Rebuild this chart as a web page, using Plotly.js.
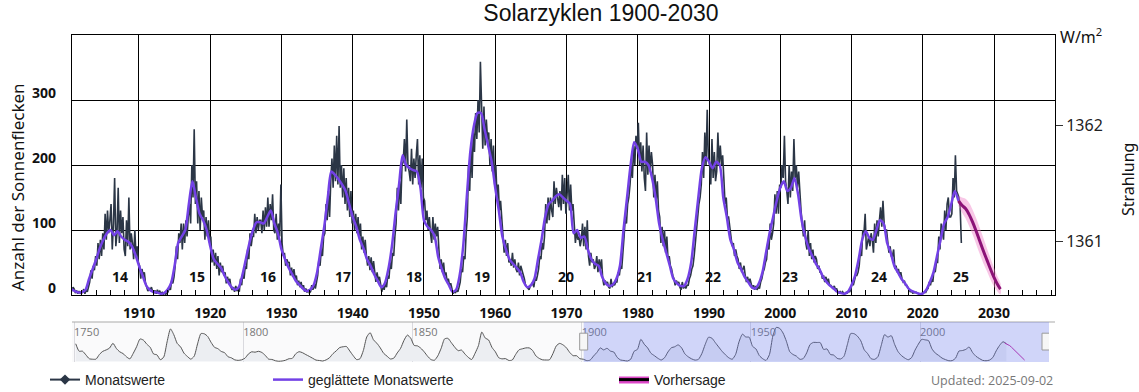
<!DOCTYPE html>
<html>
<head>
<meta charset="utf-8">
<script src="https://cdn.plot.ly/plotly-3.0.1.min.js"></script>
<style>
html,body{margin:0;padding:0;background:#fff;}
#chart{width:1139px;height:392px;}
</style>
</head>
<body>
<div id="chart"></div>
<script>
// ---------------- DATA ----------------
// Monthly sunspot values, sampled six times per year (1900 .. mid 2025)
const monthlyStart = 1900;
const monthlyPerYear = 6;
const monthlyValues = [
18,8,15,6,12,9, 3,7,2,6,3,5, 4,9,2,8,5,14, 20,38,25,45,38,60, 45,80,55,85,60,95,
70,125,85,130,95,115, 140,70,110,180,75,95, 165,80,130,95,120,70, 60,115,75,150,70,95, 80,55,100,60,75,50,
45,25,40,30,35,18, 12,6,10,8,12,5, 3,7,2,8,4,6, 2,4,1,3,1,3, 5,12,8,22,18,28,
45,75,55,95,80,110, 70,110,80,115,90,120, 140,110,200,150,255,140, 175,110,160,100,150,120, 130,85,120,90,115,80,
90,50,70,45,65,40, 60,30,50,35,45,30, 35,18,28,20,25,12, 8,12,5,14,6,10, 5,25,15,35,25,45,
40,70,55,95,75,90, 90,125,95,120,100,115, 115,95,130,100,135,105, 150,105,140,115,155,100, 95,125,85,110,90,170,
80,60,65,45,55,50, 50,30,42,28,40,25, 30,15,22,12,20,10, 15,5,10,4,8,3, 5,15,8,18,10,20,
30,55,45,70,60,90, 95,140,115,160,120,175, 210,165,230,175,245,170, 260,165,200,150,195,140, 180,130,165,120,160,110,
130,100,125,95,120,90, 110,70,90,65,85,60, 45,60,38,58,35,52, 30,20,35,22,28,15, 5,15,8,20,12,30,
25,50,40,65,60,90, 110,165,130,175,140,200, 205,240,190,270,200,190, 175,225,170,210,180,215, 240,170,215,165,210,150,
145,115,130,100,120,95, 80,120,85,110,90,105, 60,40,55,35,50,30, 35,20,25,15,18,10, 2,6,3,8,5,12,
20,40,35,60,55,95, 120,200,160,230,180,250, 220,280,240,300,250,359, 270,225,290,230,270,240, 250,200,240,190,230,170,
200,150,170,130,145,120, 90,65,85,60,80,50, 55,45,65,42,55,40, 35,50,30,45,38,32, 25,15,12,10,8,14,
15,20,12,25,22,30, 40,60,55,80,70,90, 140,110,150,115,150,130, 120,175,140,165,150,135, 160,130,185,140,180,125,
155,185,130,170,130,140, 110,80,100,85,90,75, 85,110,75,105,70,115, 60,45,65,50,55,40, 45,60,35,55,40,55,
25,15,22,18,20,12, 10,25,12,18,15,20, 20,35,30,45,40,60, 90,120,110,140,150,170, 200,180,230,200,245,225,
265,200,235,190,230,180, 160,250,185,230,190,220, 200,150,185,145,175,130, 120,80,105,75,100,65, 90,55,60,45,40,30,
25,15,22,18,20,12, 8,20,10,15,10,15, 15,25,30,40,45,60, 80,110,120,140,150,170, 220,180,250,200,285,210,
200,170,240,180,220,175, 190,250,200,230,200,215, 180,140,150,120,120,100, 90,75,80,60,70,60, 55,40,50,35,40,45,
30,20,28,18,25,15, 10,15,8,14,8,12, 10,20,25,35,40,50, 55,80,70,110,85,95, 110,155,125,160,125,170,
165,200,180,245,175,160, 140,200,150,190,160,240, 180,200,165,190,150,130, 110,90,115,80,70,100, 60,80,55,70,50,60,
55,40,45,35,35,25, 30,20,28,18,25,15, 15,12,10,14,8,10, 4,3,6,2,5,2, 2,4,3,6,5,8,
20,15,25,30,30,35, 45,70,60,100,95,125, 70,80,90,75,95,85, 65,110,80,115,90,115, 135,105,145,110,100,100,
80,65,75,60,60,70, 40,45,35,40,30,35, 25,20,22,15,15,10, 8,5,6,3,4,4, 4,3,2,1,2,2,
3,5,4,8,10,20, 15,25,20,40,35,50, 50,90,70,110,95,85, 130,100,140,150,120,120, 125,180,150,215,160,155,
150,135,80
];

// Smoothed monthly values, every half year (1900.0 .. 2025.0)
const smoothedStart = 1900;
const smoothedStep = 0.5;
const smoothedValues = [
12,9, 6,4, 4,8, 25,40, 55,72, 85,95, 100,92, 98,90, 85,82, 75,62,
45,30, 15,8, 5,4, 2,3, 8,18, 45,80, 90,100, 140,175, 150,125, 115,100,
75,55, 48,42, 30,20, 12,8, 12,30, 55,80, 100,112, 112,110, 120,130, 110,95,
70,55, 42,32, 22,16, 10,6, 8,15, 35,70, 105,150, 190,185, 178,170, 160,140,
120,105, 85,72, 55,45, 32,22, 12,18, 40,75, 125,170, 215,200, 195,192, 190,165,
115,105, 100,90, 58,40, 25,15, 5,8, 30,75, 150,220, 260,280, 280,255, 230,205,
165,130, 90,70, 55,48, 42,35, 20,12, 15,25, 55,85, 120,140, 145,152, 155,150,
145,140, 95,100, 88,90, 70,55, 48,45, 28,18, 14,16, 25,45, 100,150, 200,235,
225,205, 205,200, 180,150, 110,85, 65,45, 25,18, 14,14, 25,50, 100,150, 195,212,
205,195, 205,200, 150,120, 85,70, 50,40, 28,20, 12,10, 18,35, 65,95, 120,145,
165,175, 160,165, 180,155, 115,90, 72,60, 48,40, 28,20, 14,10, 5,3, 2,5,
15,30, 55,85, 98,88, 85,100, 115,110, 80,65, 45,35, 25,18, 10,6, 4,2,
2,8, 20,35, 60,85, 110,120, 140,160, 145
];

// Long history for the navigator: yearly values 1750 .. 2025
const historyStart = 1750;
const historyValues = [
139,80,80,51,20,16,17,54,79,90, 105,143,102,75,61,35,19,63,116,177,
168,136,111,58,51,12,33,154,257,210, 141,114,64,38,17,40,138,220,218,197,
150,111,100,78,68,36,27,11,7,11, 24,57,75,72,79,70,47,17,14,4,
0,2,8,20,23,59,76,68,53,39, 24,9,6,2,11,28,60,83,109,115,
117,81,44,13,20,86,193,227,169,143, 106,63,40,18,25,66,103,166,208,183,
126,122,103,74,39,13,8,43,104,178, 182,147,112,84,89,58,31,14,63,124,
232,185,169,110,75,28,19,21,6,10, 54,91,99,106,106,86,42,22,11,10,
12,60,122,142,130,107,69,44,44,20, 16,5,9,41,70,106,90,103,81,73,
31,10,6,2,16,79,95,174,135,106, 63,44,24,10,28,74,107,115,130,108,
59,35,19,9,15,60,133,191,183,148, 113,79,51,27,16,55,154,215,193,191,
119,98,45,20,7,54,201,269,262,225, 159,76,53,40,15,22,67,133,150,149,
148,94,98,54,49,23,18,39,131,220, 219,199,162,91,61,21,15,34,123,211,
192,203,133,76,45,25,12,29,88,136, 174,170,164,99,65,46,25,13,4,5,
25,81,85,94,113,70,40,22,7,4, 9,30,83,126,155,140
];

// Forecast of cycle 25 (smoothed) with uncertainty band
const forecastYears  = [2025.0,2025.5,2026.0,2026.5,2027.0,2027.5,2028.0,2028.5,2029.0,2029.5,2030.0,2030.5,2030.9];
const forecastValues = [145,138,133,124,112,98,83,68,54,40,27,16,9];
const forecastUpper  = [153,150,148,142,131,118,103,88,72,57,42,28,18];
const forecastLower  = [137,127,118,106,93,78,63,49,37,24,13,5,1];

// Cycle numbers and the year at which each is labelled
const cycleNames = ['14','15','16','17','18','19','20','21','22','23','24','25'];
const cycleYears = [1907.3,1918.1,1928.1,1938.6,1948.6,1958.2,1969.9,1981.0,1990.6,2001.3,2013.8,2025.4];
const cycleLabelLevel = 29;

const sunspotTicks = [0,100,200,300];
const irradianceTicks = [1361,1362];
const historyTickYears = [1750,1800,1850,1900,1950,2000];

const seriesNames = ['Monatswerte','geglättete Monatswerte','Vorhersage'];
const updatedText = 'Updated: 2025-09-02';

// ---------------- LAYOUT HELPERS ----------------
const W = 1139, H = 392, ML = 72, MR = 84, MT = 35, MB = 30;
const PW = W - ML - MR, PH = H - MT - MB;
const px = x => (x - ML) / PW;
const py = y => (H - MB - y) / PH;

const VIEW_START = 1900.6, VIEW_END = 2038.56;
const NAV_START = 1749.4, NAV_END = 2038.1;

const monthlyX = monthlyValues.map((_, i) => monthlyStart + (i + 0.5) / monthlyPerYear);
const smoothedX = smoothedValues.map((_, i) => smoothedStart + i * smoothedStep);
const historyX = historyValues.map((_, i) => historyStart + i + 0.5);

const C_MONTH = '#2b3646';
const C_SMOOTH = '#7341e6';
const C_FC = '#8c1277';

const traces = [
  { x: monthlyX, y: monthlyValues, type: 'scatter', mode: 'lines',
    line: { color: C_MONTH, width: 1.6 }, showlegend: false, hoverinfo: 'skip' },
  { x: forecastYears.concat(forecastYears.slice().reverse()),
    y: forecastUpper.concat(forecastLower.slice().reverse()),
    type: 'scatter', mode: 'lines', fill: 'toself', fillcolor: 'rgba(240,130,200,0.45)',
    line: { width: 0, shape: 'spline' }, showlegend: false, hoverinfo: 'skip' },
  { x: forecastYears, y: forecastValues, type: 'scatter', mode: 'lines',
    line: { color: C_FC, width: 3, shape: 'spline' }, showlegend: false, hoverinfo: 'skip' },
  { x: smoothedX, y: smoothedValues, type: 'scatter', mode: 'lines',
    line: { color: C_SMOOTH, width: 2.5, shape: 'spline', smoothing: 0.7 }, showlegend: false, hoverinfo: 'skip' },
  // right axis carrier
  { x: [VIEW_START], y: [irradianceTicks[0]], yaxis: 'y2', type: 'scatter', mode: 'markers',
    marker: { opacity: 0 }, showlegend: false, hoverinfo: 'skip' },
  // legend entries
  { x: [null], y: [null], type: 'scatter', mode: 'lines+markers', name: seriesNames[0], legend: 'legend',
    line: { color: C_MONTH, width: 2 }, marker: { symbol: 'diamond', size: 8, color: C_MONTH } },
  { x: [null], y: [null], type: 'scatter', mode: 'lines', name: seriesNames[1], legend: 'legend2',
    line: { color: C_SMOOTH, width: 2.5 } },
  { x: [null], y: [null], type: 'scatter', mode: 'lines', name: seriesNames[2], legend: 'legend3',
    line: { color: '#000', width: 3 } },
  // navigator
  { x: historyX, y: historyValues, xaxis: 'x2', yaxis: 'y3', type: 'scatter', mode: 'lines',
    fill: 'tozeroy', fillcolor: '#eceef2', line: { color: '#555', width: 1, shape: 'spline', smoothing: 0.6 },
    showlegend: false, hoverinfo: 'skip' },
  { x: forecastYears, y: forecastValues, xaxis: 'x2', yaxis: 'y3', type: 'scatter', mode: 'lines',
    line: { color: '#c2239f', width: 1 }, showlegend: false, hoverinfo: 'skip' }
];

const boldFont = { family: 'Open Sans', size: 14, color: '#111', weight: 700 };

const annotations = [];
sunspotTicks.forEach(v => annotations.push({
  xref: 'paper', x: 0, xanchor: 'right', xshift: -14, yref: 'y', y: v, yanchor: 'middle', yshift: 8,
  text: String(v), showarrow: false, font: boldFont
}));
cycleNames.forEach((n, i) => annotations.push({
  xref: 'x', x: cycleYears[i], yref: 'y', y: cycleLabelLevel, text: n, showarrow: false,
  xanchor: 'center', yanchor: 'middle', font: boldFont
}));
annotations.push(
  { xref: 'paper', x: 0, xshift: -54, xanchor: 'center', yref: 'paper', y: py(187), yanchor: 'middle',
    text: 'Anzahl der Sonnenflecken', textangle: -90, showarrow: false,
    font: { family: 'Noto Sans', size: 17, color: '#111' } },
  { xref: 'paper', x: 1, xshift: 73, xanchor: 'center', yref: 'paper', y: py(180), yanchor: 'middle',
    text: 'Strahlung', textangle: -90, showarrow: false,
    font: { family: 'Noto Sans', size: 16, color: '#111' } },
  { xref: 'paper', x: 1, xshift: 3, xanchor: 'left', yref: 'paper', y: py(36), yanchor: 'middle',
    text: 'W/m<sup>2</sup>', showarrow: false, font: { family: 'Noto Sans', size: 16, color: '#111' } },
  { xref: 'paper', x: 1, xanchor: 'right', yref: 'paper', y: py(380), yanchor: 'middle',
    text: updatedText, showarrow: false, font: { family: 'Open Sans', size: 12.5, color: '#777' } }
);

const legendBase = { orientation: 'h', yanchor: 'middle', xanchor: 'left', y: py(380),
  bgcolor: 'rgba(0,0,0,0)', font: { family: 'Liberation Sans', size: 14, color: '#222' } };

const layout = {
  width: W, height: H,
  margin: { l: ML, r: MR, t: MT, b: MB, autoexpand: false },
  paper_bgcolor: '#fff', plot_bgcolor: '#fff',
  title: { text: 'Solarzyklen 1900-2030', x: 601 / W, xref: 'container', xanchor: 'center',
    y: 1 - 13 / H, yref: 'container', yanchor: 'middle',
    font: { family: 'Liberation Sans', size: 23, color: '#111' } },
  xaxis: { domain: [0, 1], anchor: 'y', range: [VIEW_START, VIEW_END], tick0: 1910, dtick: 10,
    showgrid: true, gridcolor: '#000', gridwidth: 1, showline: true, linecolor: '#000', mirror: true,
    zeroline: false, ticks: '', ticklabelstandoff: 5, tickfont: boldFont,
    minor: { tick0: 1900, dtick: 2, ticks: 'inside', ticklen: 5, tickcolor: '#000', showgrid: false } },
  yaxis: { domain: [py(295), 1], anchor: 'x', range: [0, 400], tickvals: sunspotTicks, showticklabels: false,
    showgrid: true, gridcolor: '#000', gridwidth: 1, showline: true, linecolor: '#000', mirror: true,
    zeroline: false, ticks: '' },
  yaxis2: { overlaying: 'y', side: 'right', anchor: 'x', range: [1360.535, 1362.776], tickvals: irradianceTicks,
    showgrid: false, zeroline: false, showline: false, ticks: 'outside', ticklen: 7, tickcolor: '#333',
    tickfont: { family: 'Noto Sans', size: 16, color: '#222' } },
  xaxis2: { domain: [0, px(1049)], anchor: 'y3', range: [NAV_START, NAV_END], side: 'top',
    tickvals: historyTickYears, ticklabelposition: 'inside right', ticks: '',
    showgrid: true, gridcolor: '#d9d9de', showline: false, zeroline: false,
    tickfont: { family: 'Open Sans', size: 11, color: '#777' } },
  yaxis3: { domain: [0, py(322)], anchor: 'x2', range: [-6, 312], showticklabels: false,
    showgrid: false, zeroline: false, ticks: '' },
  legend: Object.assign({}, legendBase, { x: px(45) }),
  legend2: Object.assign({}, legendBase, { x: px(268) }),
  legend3: Object.assign({}, legendBase, { x: px(614) }),
  annotations: annotations,
  shapes: [
    { type: 'rect', layer: 'below', xref: 'paper', x0: 0, x1: px(1049), yref: 'y3 domain', y0: 0, y1: 1,
      fillcolor: '#fafafb', line: { width: 0 } },
    { type: 'line', xref: 'paper', x0: 0, x1: 1, yref: 'y3 domain', y0: 1, y1: 1,
      line: { color: '#a9a9a9', width: 1 } },
    { type: 'rect', layer: 'above', xref: 'x2', x0: VIEW_START, x1: NAV_END, yref: 'y3 domain', y0: 0, y1: 1,
      fillcolor: 'rgba(95,115,245,0.27)', line: { width: 0 } },
    { type: 'rect', layer: 'above', xref: 'x2', xsizemode: 'pixel', xanchor: VIEW_START, x0: -4, x1: 4,
      yref: 'y3 domain', y0: 0.3, y1: 0.72, fillcolor: '#f6f6f6', line: { color: '#9a9a9a', width: 1 } },
    { type: 'rect', layer: 'above', xref: 'x2', xsizemode: 'pixel', xanchor: NAV_END, x0: -7, x1: 1,
      yref: 'y3 domain', y0: 0.3, y1: 0.72, fillcolor: '#f6f6f6', line: { color: '#9a9a9a', width: 1 } },
    // glow behind the forecast legend symbol
    { type: 'rect', layer: 'above', xref: 'paper', x0: px(619), x1: px(649), yref: 'paper', y0: py(383.5), y1: py(376.5),
      fillcolor: 'rgba(215,40,190,0.85)', line: { width: 0 } }
  ]
};

Plotly.newPlot('chart', traces, layout, { staticPlot: true });
</script>
</body>
</html>
